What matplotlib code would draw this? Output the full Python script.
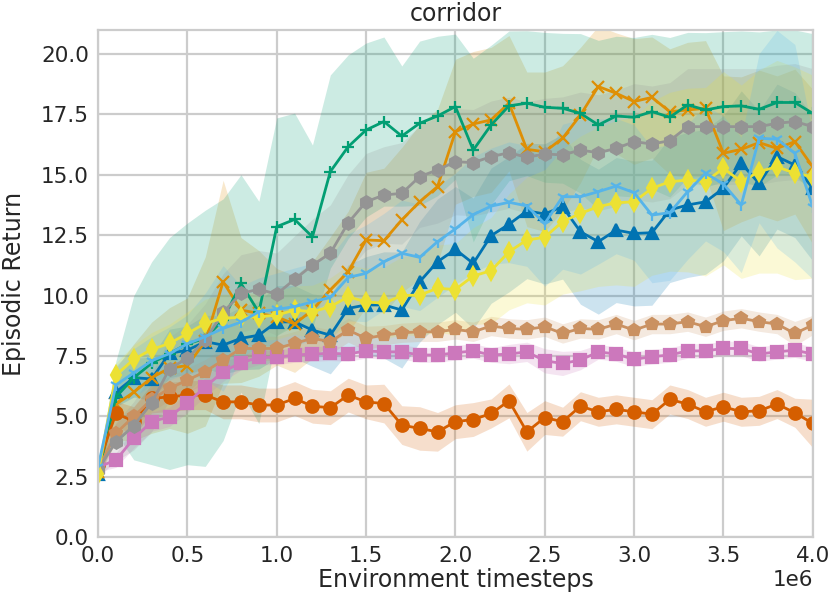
import numpy as np
import matplotlib
matplotlib.use("Agg")
import matplotlib.pyplot as plt
import seaborn as sns

# ── Datos (41 evaluaciones, cada 1e5 pasos) ────────────────────────
steps = np.arange(41) * 1e5

ret_blue = [2.6, 6.0, 6.6, 6.55, 7.61, 7.74, 8.09, 7.95, 8.23, 8.36, 8.91,
            8.91, 8.57, 8.36, 9.47, 9.61, 9.61, 9.40, 10.57, 11.40, 11.91,
            11.33, 12.48, 12.95, 13.50, 13.38, 13.68, 12.64, 12.23, 12.71, 12.57,
            12.60, 13.54, 13.75, 13.88, 14.44, 15.47, 14.64, 15.75, 15.40, 14.44]
ret_orange = [2.7, 5.5, 6.0, 6.6, 7.0, 7.1, 8.1, 10.57, 9.4, 9.26, 9.12,
              8.82, 9.4, 10.23, 10.99, 12.3, 12.27, 13.13, 13.88, 14.51, 16.78,
              17.10, 17.27, 17.96, 16.05, 15.95, 16.51, 17.47, 18.65, 18.37, 18.03,
              18.2, 17.61, 17.68, 17.75, 15.89, 16.05, 16.33, 16.09, 16.37, 15.33]
ret_green = [2.6, 5.8, 6.6, 7.2, 7.6, 8.0, 8.23, 9.0, 10.5, 9.3, 12.85,
             13.15, 12.43, 15.13, 16.16, 16.85, 17.2, 16.6, 17.13, 17.43, 17.82,
             16.02, 17.06, 17.85, 17.96, 17.79, 17.75, 17.54, 17.06, 17.43, 17.38,
             17.61, 17.38, 17.89, 17.68, 17.82, 17.85, 17.71, 17.99, 17.99, 17.54]
ret_red = [3.0, 5.12, 4.8, 5.74, 5.81, 5.88, 5.88, 5.6, 5.6, 5.47, 5.47,
           5.74, 5.42, 5.36, 5.88, 5.6, 5.53, 4.64, 4.50, 4.36, 4.78,
           4.87, 5.12, 5.64, 4.36, 4.95, 4.78, 5.42, 5.19, 5.29, 5.19,
           5.09, 5.70, 5.51, 5.19, 5.40, 5.19, 5.23, 5.51, 5.15, 4.71]
ret_pink = [2.9, 3.19, 4.09, 4.78, 4.98, 5.56, 6.22, 6.85, 7.22, 7.44, 7.44,
            7.54, 7.58, 7.61, 7.58, 7.71, 7.67, 7.67, 7.54, 7.54, 7.63,
            7.71, 7.54, 7.58, 7.67, 7.30, 7.19, 7.33, 7.67, 7.58, 7.36,
            7.47, 7.54, 7.71, 7.71, 7.81, 7.81, 7.58, 7.67, 7.74, 7.58]
ret_brown = [2.8, 4.3, 5.0, 5.7, 6.16, 6.5, 6.85, 7.33, 7.81, 7.81, 7.81,
             8.02, 8.23, 8.09, 8.57, 8.23, 8.36, 8.46, 8.50, 8.50, 8.60,
             8.50, 8.74, 8.64, 8.60, 8.71, 8.43, 8.64, 8.60, 8.82, 8.57,
             8.82, 8.82, 8.92, 8.71, 8.96, 9.06, 8.92, 8.82, 8.43, 8.78]
ret_gray = [2.8, 3.95, 4.61, 5.56, 6.98, 7.40, 8.16, 9.30, 10.09, 10.26, 10.06,
            10.67, 11.26, 11.75, 13.01, 13.88, 14.16, 14.23, 14.92, 15.20, 15.54,
            15.50, 15.75, 15.91, 15.72, 15.86, 15.82, 16.02, 15.91, 16.09, 16.37,
            16.27, 16.41, 16.99, 16.99, 16.99, 16.99, 16.99, 17.13, 17.20, 16.99]
ret_yellow = [2.6, 6.71, 7.36, 7.77, 8.02, 8.43, 8.85, 9.06, 9.10, 9.12, 9.19,
              9.40, 9.33, 9.54, 9.95, 9.74, 9.68, 10.0, 10.02, 10.30, 10.25,
              10.81, 11.03, 11.81, 12.30, 12.41, 13.06, 13.40, 13.68, 13.84, 13.88,
              14.44, 14.71, 14.78, 14.71, 15.27, 14.71, 15.13, 15.33, 15.06, 14.92]
ret_sky = [2.9, 6.3, 6.8, 7.3, 7.6, 8.0, 8.3, 8.64, 8.9, 9.33, 9.43,
           9.54, 9.74, 9.92, 10.75, 10.92, 11.40, 11.75, 11.58, 12.23, 12.76,
           13.35, 13.70, 13.86, 13.71, 12.98, 14.09, 14.09, 14.30, 14.53, 14.26,
           13.33, 13.43, 14.30, 15.06, 14.62, 13.75, 16.51, 16.47, 15.89, 13.68]

# desvío (semi-ancho de la banda sombreada)
sd_blue = [0.3, 0.6, 0.8, 0.9, 1.0, 1.0, 1.1, 1.2, 1.3, 1.4, 1.5,
           1.5, 1.5, 1.6, 1.8, 2.0, 2.2, 2.4, 2.5, 2.6, 2.6,
           2.7, 2.8, 2.8, 2.8, 2.9, 3.0, 3.0, 3.0, 3.0, 3.0,
           3.0, 3.0, 3.0, 3.0, 3.0, 3.0, 3.0, 3.0, 3.0, 3.0]
sd_orange = [0.3, 1.5, 2.0, 2.3, 2.5, 2.8, 3.5, 4.2, 3.0, 2.6, 2.0,
             2.0, 2.0, 2.2, 2.5, 2.8, 3.0, 3.0, 3.2, 3.2, 3.0,
             3.0, 3.0, 2.8, 3.2, 3.3, 3.0, 2.8, 2.5, 2.5, 2.6,
             2.5, 2.6, 2.8, 2.8, 3.2, 3.0, 3.0, 3.0, 3.0, 3.2]
sd_green = [0.3, 1.5, 3.4, 4.2, 4.8, 5.0, 5.3, 5.0, 4.5, 4.6, 4.5,
            4.4, 3.8, 4.0, 3.8, 3.6, 3.5, 2.9, 3.4, 3.3, 3.0,
            3.8, 3.3, 3.1, 3.0, 3.1, 3.1, 3.3, 3.5, 3.3, 3.3,
            3.2, 3.3, 3.0, 3.2, 3.1, 3.1, 3.2, 3.0, 3.0, 3.3]
sd_red = [0.2, 0.5, 0.6, 0.6, 0.6, 0.6, 0.6, 0.7, 0.7, 0.7, 0.7,
          0.7, 0.7, 0.7, 0.7, 0.7, 0.8, 0.8, 0.9, 0.8, 0.7,
          0.7, 0.6, 0.7, 0.8, 0.7, 0.6, 0.6, 0.6, 0.6, 0.6,
          0.6, 0.6, 0.6, 0.6, 0.6, 0.6, 0.6, 0.6, 0.6, 1.0]
sd_pink = [0.2, 0.3, 0.4, 0.4, 0.4, 0.4, 0.4, 0.4, 0.3, 0.3, 0.3,
           0.3, 0.3, 0.3, 0.3, 0.3, 0.3, 0.3, 0.3, 0.3, 0.3,
           0.3, 0.3, 0.4, 0.4, 0.5, 0.5, 0.4, 0.3, 0.3, 0.3,
           0.3, 0.3, 0.3, 0.3, 0.3, 0.3, 0.3, 0.3, 0.3, 0.3]
sd_brown = [0.2, 0.4, 0.4, 0.5, 0.5, 0.5, 0.5, 0.5, 0.5, 0.5, 0.5,
            0.5, 0.5, 0.5, 0.5, 0.5, 0.4, 0.4, 0.4, 0.4, 0.4,
            0.4, 0.4, 0.4, 0.4, 0.4, 0.4, 0.4, 0.4, 0.4, 0.4,
            0.4, 0.4, 0.4, 0.4, 0.4, 0.4, 0.4, 0.4, 0.5, 0.4]
sd_gray = [0.3, 0.8, 1.0, 1.2, 1.3, 1.4, 1.5, 1.6, 1.6, 1.6, 1.7,
           1.8, 1.9, 2.0, 2.0, 2.0, 2.0, 2.1, 2.1, 2.2, 2.2,
           2.2, 2.3, 2.3, 2.3, 2.3, 2.4, 2.4, 2.4, 2.4, 2.4,
           2.4, 2.4, 2.4, 2.4, 2.4, 2.4, 2.4, 2.4, 2.4, 2.4]
sd_yellow = [0.3, 0.5, 0.6, 0.7, 0.8, 0.9, 1.0, 1.0, 1.0, 1.0, 1.0,
             1.0, 1.1, 1.2, 1.3, 1.4, 1.5, 1.6, 1.7, 1.8, 1.9,
             2.0, 2.2, 2.4, 2.6, 2.8, 3.0, 3.2, 3.3, 3.4, 3.5,
             3.6, 3.7, 3.8, 3.9, 4.0, 4.0, 4.2, 4.4, 4.4, 4.2]
sd_sky = [0.3, 0.8, 1.0, 1.0, 1.1, 1.2, 1.8, 2.6, 1.5, 1.4, 1.5,
          1.6, 1.6, 1.7, 1.8, 2.0, 2.0, 2.2, 2.2, 2.3, 2.3,
          2.4, 2.4, 2.5, 2.5, 2.6, 3.0, 3.2, 3.0, 2.8, 2.8,
          2.8, 2.8, 2.8, 2.8, 2.8, 2.8, 3.5, 4.5, 4.5, 3.0]

# ── Estilo por serie ─────────────────────────────────────────────
series = [
    (ret_blue,   sd_blue,   '#0173b2', '^'),
    (ret_orange, sd_orange, '#de8f05', 'x'),
    (ret_green,  sd_green,  '#029e73', '+'),
    (ret_red,    sd_red,    '#d55e00', 'o'),
    (ret_pink,   sd_pink,   '#cc78bc', 's'),
    (ret_brown,  sd_brown,  '#ca9161', 'p'),
    (ret_gray,   sd_gray,   '#949494', 'h'),
    (ret_yellow, sd_yellow, '#ece133', 'd'),
    (ret_sky,    sd_sky,    '#56b4e9', '1'),
]

sns.set_style("whitegrid", {'grid.color': '.8', 'axes.edgecolor': '.8'})
plt.rcParams['font.family'] = ['DejaVu Sans']
plt.rcParams['grid.linewidth'] = 1.6
plt.rcParams['axes.linewidth'] = 1.6

fig = plt.figure(figsize=(8.31, 6.07), dpi=100)
ax = fig.add_axes([0.118, 0.115, 0.860, 0.836])

for media, sd, color, marker in series:
    media = np.array(media)
    sd = np.array(sd)
    ax.fill_between(steps, media - sd, media + sd, color=color, alpha=0.2, linewidth=0)
    ax.plot(steps, media, color=color, marker=marker, markersize=9,
            markeredgewidth=1.6, linewidth=2)

ax.set_xlim(0, 4e6)
ax.set_ylim(0, 21)
ax.set_yticks(np.arange(0, 20.1, 2.5))
ax.set_xlabel('Environment timesteps', fontsize=17, labelpad=1.5)
ax.set_ylabel('Episodic Return', fontsize=17, labelpad=11)
ax.set_title('corridor', fontsize=17, pad=6)
ax.tick_params(labelsize=15.5, pad=3)
ax.xaxis.get_offset_text().set_fontsize(15.5)

fig.savefig('out.png', dpi=100)
